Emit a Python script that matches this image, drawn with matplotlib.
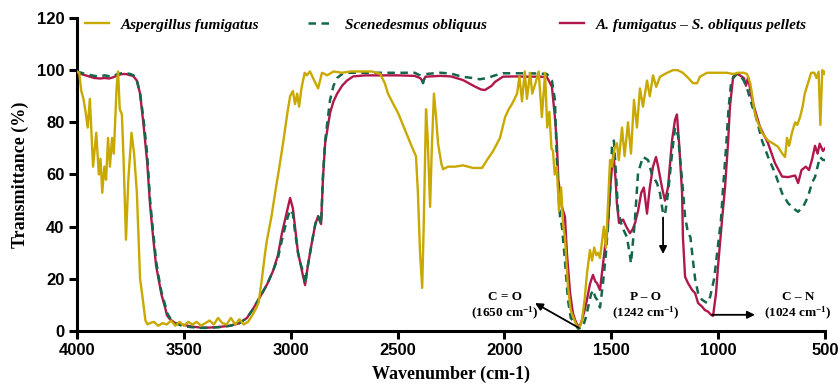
import matplotlib
matplotlib.use("Agg")
import matplotlib.pyplot as plt
from matplotlib.legend import Legend

# ---------------- data ----------------
af_wn = [4000, 3990, 3980, 3970, 3960, 3950, 3940, 3925, 3910, 3898, 3890, 3882, 3872, 3864, 3855, 3846,
         3836, 3828, 3815, 3808, 3800, 3790, 3782, 3771, 3760, 3745, 3733, 3720, 3705, 3692, 3680, 3670,
         3660, 3640, 3620, 3600, 3580, 3560, 3540, 3520, 3500, 3480, 3460, 3440, 3420, 3400, 3380, 3360,
         3340, 3320, 3300, 3280, 3260, 3240, 3220, 3200, 3180, 3160, 3150, 3135, 3120, 3111, 3090, 3073,
         3055, 3036, 3015, 3003, 2990, 2980, 2970, 2961, 2950, 2935, 2925, 2910, 2890, 2872, 2860, 2854,
         2840, 2830, 2800, 2760, 2720, 2680, 2650, 2620, 2600, 2582, 2560, 2545, 2520, 2498, 2475, 2452,
         2430, 2414, 2405, 2395, 2385, 2378, 2367, 2360, 2348, 2340, 2330, 2320, 2311, 2295, 2287, 2264,
         2231, 2194, 2147, 2105, 2082, 2053, 2021, 1997, 1980, 1965, 1941, 1930, 1918, 1905, 1895, 1880,
         1870, 1855, 1840, 1825, 1810, 1800, 1790, 1780, 1773, 1765, 1755, 1745, 1735, 1725, 1717, 1703,
         1690, 1679, 1665, 1655, 1645, 1637, 1625, 1614, 1600, 1590, 1580, 1570, 1562, 1553, 1544, 1535,
         1525, 1515, 1506, 1497, 1485, 1474, 1465, 1450, 1438, 1422, 1408, 1394, 1380, 1366, 1352, 1333,
         1320, 1305, 1290, 1272, 1239, 1211, 1190, 1165, 1140, 1118, 1099, 1085, 1052, 1005, 959, 930,
         907, 880, 865, 850, 842, 830, 815, 795, 767, 745, 720, 700, 687, 678, 668, 655, 640, 630, 617,
         605, 595, 580, 565, 550, 540, 530, 522, 513, 505, 500]
af_t = [99.5, 99, 92, 89, 84, 78, 89, 63, 76, 60, 66, 53, 63, 58, 74, 63,
        74, 68, 93, 99.5, 85, 83, 65, 35, 58, 76, 68, 53, 20, 12, 4, 2.5,
        3, 3.5, 2, 3, 2.5, 4, 2, 3.5, 2, 3.5, 2.5, 3.5, 2, 3, 4, 2.5,
        5, 3, 2.5, 5, 2.5, 4.5, 2.5, 3.5, 6, 9, 11, 20, 30, 35, 44, 53,
        62, 72, 84, 90, 92, 87, 91, 86, 93, 99, 98, 99.5, 96, 93, 97, 99,
        98.5, 98, 99.5, 99, 99.5, 99.5, 99.5, 99.5, 99, 98.6, 95, 91, 87, 83.6, 79, 74.5,
        70, 67, 53, 30, 16.5, 40, 85, 75, 47.6, 70, 91, 82, 72, 64, 62, 63,
        63, 63.5, 62.5, 62.5, 65.5, 69, 74, 82, 85, 87, 91, 97.5, 88, 99.5, 89, 99,
        91, 95, 99.5, 82, 99, 78, 84, 70, 69, 60, 63, 46, 55, 40, 36, 17,
        8, 5.5, 2.5, 1.3, 2, 4.3, 12, 22, 31, 27, 32, 29, 30, 28, 34, 40,
        32, 50, 65.5, 63, 70, 72, 65.5, 78, 67, 80, 68, 88.6, 78, 93, 86, 96,
        90, 98, 93.6, 97.5, 99, 100, 100, 99, 97, 95, 95, 97.5, 99, 99, 99, 98.5,
        99, 99, 98.5, 95, 91, 84, 80, 76, 73, 72, 70.6, 68, 66.7, 74, 71, 76, 80, 79, 82,
        86, 91, 95, 99, 99, 97, 99.4, 79, 100, 98.5, 99.4]

so_wn = [4000, 3960, 3930, 3900, 3870, 3840, 3810, 3780, 3750, 3735, 3720, 3705, 3690, 3672, 3658, 3644,
         3630, 3621, 3605, 3588, 3579, 3565, 3540, 3509, 3470, 3424, 3380, 3330, 3284, 3240, 3205, 3180,
         3144, 3110, 3083, 3060, 3041, 3020, 3003, 2990, 2980, 2966, 2955, 2940, 2933, 2920, 2901, 2885,
         2872, 2858, 2849, 2839, 2816, 2800, 2783, 2760, 2737, 2650, 2500, 2420, 2395, 2381, 2370, 2300,
         2250, 2200, 2150, 2115, 2080, 2044, 2007, 1900, 1830, 1801, 1778, 1764, 1755, 1745, 1740, 1731,
         1717, 1703, 1690, 1670, 1656, 1640, 1633, 1620, 1609, 1595, 1586, 1575, 1567, 1553, 1539, 1525,
         1516, 1505, 1497, 1488, 1478, 1469, 1450, 1427, 1415, 1408, 1398, 1390, 1375, 1366, 1352, 1328,
         1310, 1286, 1272, 1258, 1249, 1235, 1216, 1202, 1188, 1169, 1155, 1141, 1130, 1118, 1108, 1094,
         1076, 1052, 1038, 1019, 1005, 987, 977, 963, 952, 940, 930, 912, 898, 880, 861, 840, 828, 795,
         767, 734, 701, 673, 640, 626, 600, 580, 560, 547, 524, 510, 500]
so_t = [99.5, 98.5, 98, 97.5, 98, 97.5, 98.5, 99, 98.5, 98, 96, 91, 82, 68, 50, 38,
        27, 22, 15, 10, 7, 5, 3, 2, 1.5, 1.2, 1.2, 1.5, 2, 3, 5, 8,
        13, 18, 23, 28, 35, 42, 46.5, 45, 38, 30, 26, 22, 18, 25, 34, 41,
        44, 41, 60, 73, 88.6, 94, 97, 98.5, 99, 99, 99, 99, 98, 95, 98.5, 99,
        98.7, 97.5, 97, 96.5, 97, 98, 98.8, 98.8, 98.7, 98.5, 96, 88.6, 66, 50, 43.8, 40,
        27, 12, 5, 3, 0.9, 1.2, 1.6, 5, 9, 14, 15.7, 13, 12, 9, 18.3, 30,
        40, 55, 70.5, 73, 60, 46.4, 40, 36, 30, 26, 35, 42, 60.6, 63, 66.8, 65.5,
        60, 56.6, 52.7, 45, 44.6, 52.7, 68, 78, 75, 58, 43.8, 37.5, 36, 27, 20, 14.5,
        12, 10.7, 13, 20, 30, 42.6, 55, 70.6, 84.7, 95, 97, 98.6, 98, 96, 92, 86, 83.6, 73,
        66.8, 60.5, 52.8, 49, 46.5, 45.7, 48, 51.5, 57, 59, 66.7, 65.6, 65.5]

pel_wn = [4000, 3980, 3960, 3940, 3920, 3892, 3870, 3850, 3830, 3810, 3790, 3770, 3750, 3738, 3720, 3705,
          3690, 3672, 3658, 3644, 3630, 3621, 3605, 3588, 3579, 3565, 3540, 3509, 3470, 3424, 3380, 3330,
          3284, 3240, 3205, 3180, 3144, 3110, 3083, 3060, 3041, 3020, 3003, 2990, 2980, 2966, 2955, 2945,
          2933, 2920, 2901, 2885, 2872, 2858, 2849, 2839, 2816, 2800, 2783, 2760, 2737, 2708, 2650, 2500,
          2420, 2395, 2381, 2370, 2300, 2250, 2194, 2138, 2110, 2091, 2060, 2044, 2007, 1950, 1900, 1830,
          1801, 1778, 1764, 1755, 1748, 1740, 1731, 1717, 1708, 1693, 1680, 1670, 1656, 1645, 1637, 1625,
          1614, 1600, 1586, 1575, 1567, 1553, 1540, 1530, 1516, 1505, 1497, 1490, 1480, 1474, 1464, 1455,
          1445, 1430, 1413, 1400, 1389, 1375, 1360, 1348, 1333, 1320, 1305, 1291, 1281, 1263, 1249, 1235,
          1216, 1202, 1193, 1183, 1169, 1165, 1155, 1141, 1122, 1108, 1094, 1076, 1062, 1047, 1035, 1024,
          1010, 1001, 982, 968, 954, 945, 930, 912, 898, 880, 870, 860, 845, 828, 805, 767, 734, 701, 673,
          640, 626, 610, 590, 575, 560, 547, 535, 525, 510, 500]
pel_t = [99, 98.5, 98, 97.5, 97, 96.8, 97, 96.8, 97.3, 98, 98.5, 98.5, 98, 97.8, 96, 91,
         80, 65, 48, 36, 25, 21, 14, 9, 6, 4.5, 3, 2.5, 1.8, 1.3, 1.3, 1.6,
         2, 3, 5, 8, 13, 18, 23, 29, 37.6, 45, 51, 47, 40, 30, 26, 22,
         17.6, 25, 34, 41, 44, 41, 59, 72, 83.6, 88, 91, 94, 96, 97.6, 98, 98,
         97.8, 97, 95.6, 97.5, 97.8, 97.6, 96.2, 93.7, 92.6, 92.4, 94, 95.5, 97.5, 97.6, 97.5, 97.5,
         97.3, 93.6, 82, 72, 58, 53, 47.6, 43.8, 30, 14.6, 7, 4.3, 1.6, 2.5, 4.3, 8,
         12, 18, 21.5, 19, 18.3, 15.7, 25, 32, 40, 55, 63, 68, 58, 49, 41.4, 42,
         42.7, 40, 37.5, 39, 41.4, 46, 53, 55, 45, 55, 63, 66.7, 63, 55, 50, 55,
         73, 81, 83, 72, 53, 36, 20.8, 18.3, 15.7, 14.5, 10.7, 9.4, 8, 7.4, 6.3, 5.8,
         14.5, 24.6, 42.6, 55, 72, 86, 97.5, 98.6, 98, 97, 94, 97.3, 90, 84.7, 78.3, 72, 64.3, 59.2, 59,
         59.6, 56.7, 61.7, 63, 61.7, 66, 71, 68, 71.8, 69, 70]

series_names = ["Aspergillus fumigatus", "Scenedesmus obliquus", "A. fumigatus \u2013 S. obliquus pellets"]
x_ticks = [4000, 3500, 3000, 2500, 2000, 1500, 1000, 500]
y_ticks = [0, 20, 40, 60, 80, 100, 120]

# annotation labels
ann_co = "C = O\n(1650 cm$^{-1}$)"
ann_po = "P \u2013 O\n(1242 cm$^{-1}$)"
ann_cn = "C \u2013 N\n(1024 cm$^{-1}$)"

# ---------------- styling ----------------
plt.rcParams['mathtext.fontset'] = 'custom'
plt.rcParams['mathtext.rm'] = 'Liberation Serif:bold'
plt.rcParams['mathtext.bf'] = 'Liberation Serif:bold'
plt.rcParams['mathtext.it'] = 'Liberation Serif:bold:italic'

c_af = "#C9A800"
c_so = "#14684A"
c_pel = "#B0174C"

fig = plt.figure(figsize=(8.4, 3.91), dpi=100)
ax = fig.add_axes([0.0917, 0.1535, 0.8905, 0.8005])

l_pel, = ax.plot(pel_wn, pel_t, color=c_pel, lw=1.7, zorder=3)
l_so, = ax.plot(so_wn, so_t, color=c_so, lw=1.8, ls=(0, (3.0, 2.2)), zorder=4)
l_af, = ax.plot(af_wn, af_t, color=c_af, lw=1.7, zorder=5)

ax.set_xlim(4000, 500)
ax.set_ylim(0, 120)
ax.set_xticks(x_ticks)
ax.set_yticks(y_ticks)
for s in ['top', 'right']:
    ax.spines[s].set_visible(False)
for s in ['left', 'bottom']:
    ax.spines[s].set_linewidth(2.2)
ax.tick_params(axis='both', direction='out', length=6, width=2.2, pad=3)
for lab in ax.get_xticklabels() + ax.get_yticklabels():
    lab.set_fontfamily('Liberation Sans')
    lab.set_fontweight('bold')
    lab.set_fontsize(12)

ax.set_xlabel("Wavenumber (cm-1)", fontfamily='Liberation Serif', fontweight='bold', fontsize=13, labelpad=5)
ax.set_ylabel("Transmittance (%)", fontfamily='Liberation Serif', fontweight='bold', fontsize=13, labelpad=6)

# legends (three entries placed along the top)
leg_font = dict(family='Liberation Serif', weight='bold', style='italic', size=11)
anchors = [0.010, 0.309, 0.645]
for i, (h, name) in enumerate(zip([l_af, l_so, l_pel], series_names)):
    leg = Legend(ax, [h], [name], loc='center left', bbox_to_anchor=(anchors[i], 0.978),
                 frameon=False, prop=leg_font, handlelength=1.6, handletextpad=0.8,
                 borderpad=0, borderaxespad=0)
    ax.add_artist(leg)

# annotations
txt = dict(fontfamily='Liberation Serif', fontweight='bold', fontsize=9.5, ha='center', va='center',
           linespacing=1.15, zorder=6)
ax.text(1997, 9.3, ann_co, **txt)
ax.text(1338, 9.3, ann_po, **txt)
ax.text(627, 9.3, ann_cn, **txt)
arr = dict(arrowstyle='-|>', color='black', lw=1.3, mutation_scale=11, shrinkA=0, shrinkB=0)
ax.annotate('', xy=(1857, 10.7), xytext=(1652, 1.2), arrowprops=arr, zorder=6)
ax.annotate('', xy=(1258, 29.5), xytext=(1258, 43.5), arrowprops=arr, zorder=6)
ax.annotate('', xy=(828, 6.2), xytext=(1030, 6.2), arrowprops=arr, zorder=6)

fig.savefig("out.png", dpi=100)
